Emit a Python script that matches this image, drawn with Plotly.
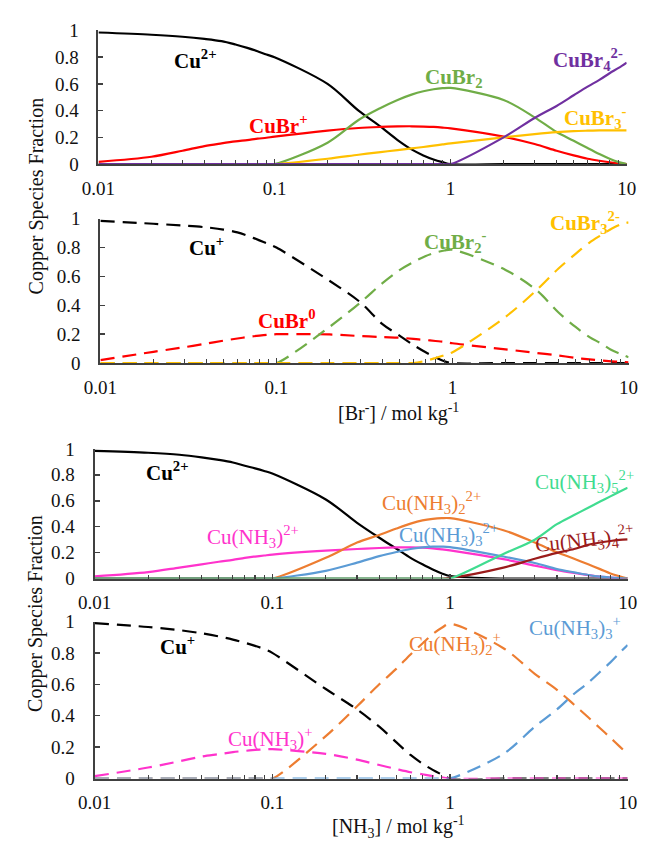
import plotly.graph_objects as go

W, H = 652, 850

# ---------------- data ----------------
conc = [0.01, 0.02, 0.03, 0.04, 0.05, 0.06, 0.07, 0.08, 0.09,
        0.1, 0.2, 0.3, 0.4, 0.5, 0.6, 0.7, 0.8, 0.9,
        1, 2, 3, 4, 5, 6, 7, 8, 9, 10]

# Panel 1: Cu(II) bromide species
br_cu2 = [0.985, 0.968, 0.953, 0.937, 0.92, 0.895, 0.87, 0.845, 0.82, 0.80,
          0.60, 0.40, 0.28, 0.18, 0.11, 0.065, 0.035, 0.015, 0.0,
          0, 0, 0, 0, 0, 0, 0, 0, 0]
br_cubr_p = [0.017, 0.055, 0.10, 0.135, 0.155, 0.17, 0.18, 0.19, 0.197, 0.205,
             0.25, 0.27, 0.278, 0.282, 0.283, 0.281, 0.278, 0.273, 0.267,
             0.205, 0.15, 0.10, 0.065, 0.04, 0.025, 0.014, 0.006, 0.0]
br_cubr2 = [0, 0, 0, 0, 0, 0, 0, 0, 0, 0,
            0.16, 0.33, 0.42, 0.48, 0.52, 0.545, 0.56, 0.568, 0.57,
            0.48, 0.35, 0.24, 0.175, 0.12, 0.075, 0.04, 0.015, 0.0]
br_cubr3 = [0, 0, 0, 0, 0, 0, 0, 0, 0, 0,
            0.04, 0.07, 0.09, 0.105, 0.118, 0.128, 0.138, 0.147, 0.155,
            0.20, 0.225, 0.24, 0.247, 0.25, 0.252, 0.253, 0.253, 0.253]
br_cubr4 = [0, 0, 0, 0, 0, 0, 0, 0, 0, 0,
            0, 0, 0, 0, 0, 0, 0, 0, 0,
            0.20, 0.345, 0.435, 0.515, 0.58, 0.63, 0.68, 0.72, 0.76]

# Panel 2: Cu(I) bromide species
br_cu1 = [0.985, 0.965, 0.952, 0.94, 0.925, 0.905, 0.878, 0.85, 0.825, 0.80,
          0.57, 0.42, 0.27, 0.19, 0.125, 0.076, 0.04, 0.013, 0.0,
          0, 0, 0, 0, 0, 0, 0, 0, 0]
br_cubr0 = [0.02, 0.078, 0.11, 0.135, 0.155, 0.17, 0.182, 0.19, 0.196, 0.20,
            0.198, 0.187, 0.18, 0.176, 0.167, 0.16, 0.153, 0.147, 0.137,
            0.095, 0.07, 0.052, 0.036, 0.025, 0.018, 0.012, 0.008, 0.005]
br_cubr2m = [0, 0, 0, 0, 0, 0, 0, 0, 0, 0,
             0.25, 0.42, 0.554, 0.644, 0.70, 0.74, 0.765, 0.78, 0.785,
             0.645, 0.505, 0.35, 0.25, 0.18, 0.135, 0.09, 0.063, 0.04]
br_cubr3m = [0, 0, 0, 0, 0, 0, 0, 0, 0, 0,
             0, 0, 0, 0, 0, 0.015, 0.035, 0.055, 0.075,
             0.32, 0.505, 0.655, 0.757, 0.835, 0.887, 0.93, 0.96, 0.975]

# Panel 3: Cu(II) ammine species
nh_cu2 = [0.985, 0.97, 0.955, 0.935, 0.915, 0.895, 0.87, 0.85, 0.83, 0.81,
          0.61, 0.43, 0.315, 0.23, 0.16, 0.11, 0.07, 0.04, 0.02,
          0, 0, 0, 0, 0, 0, 0, 0, 0]
nh_a1 = [0.017, 0.05, 0.085, 0.11, 0.13, 0.145, 0.16, 0.17, 0.178, 0.185,
         0.215, 0.228, 0.236, 0.24, 0.24, 0.238, 0.233, 0.226, 0.218,
         0.15, 0.10, 0.065, 0.043, 0.027, 0.015, 0.008, 0.003, 0.0]
nh_a2 = [0, 0, 0, 0, 0, 0, 0, 0, 0, 0,
         0.16, 0.278, 0.336, 0.386, 0.424, 0.449, 0.461, 0.466, 0.466,
         0.373, 0.278, 0.203, 0.153, 0.11, 0.073, 0.04, 0.018, 0.0]
nh_a3 = [0, 0, 0, 0, 0, 0, 0, 0, 0, 0,
         0.06, 0.123, 0.173, 0.205, 0.228, 0.24, 0.246, 0.246, 0.243,
         0.17, 0.12, 0.073, 0.048, 0.028, 0.015, 0.008, 0.003, 0.0]
nh_a4 = [0, 0, 0, 0, 0, 0, 0, 0, 0, 0,
         0, 0, 0, 0, 0, 0, 0, 0, 0.005,
         0.085, 0.153, 0.198, 0.228, 0.26, 0.278, 0.29, 0.298, 0.303]
nh_a5 = [0, 0, 0, 0, 0, 0, 0, 0, 0, 0,
         0, 0, 0, 0, 0, 0, 0, 0, 0,
         0.19, 0.30, 0.42, 0.49, 0.546, 0.594, 0.634, 0.669, 0.70]

# Panel 4: Cu(I) ammine species
nh_cu1 = [0.99, 0.965, 0.945, 0.925, 0.905, 0.885, 0.865, 0.845, 0.825, 0.80,
          0.57, 0.44, 0.33, 0.23, 0.15, 0.095, 0.055, 0.025, 0.0,
          0, 0, 0, 0, 0, 0, 0, 0, 0]
nh_b1 = [0.015, 0.07, 0.11, 0.14, 0.155, 0.168, 0.176, 0.182, 0.186, 0.187,
         0.157, 0.12, 0.086, 0.06, 0.04, 0.027, 0.016, 0.008, 0.0,
         0, 0, 0, 0, 0, 0, 0, 0, 0]
nh_b2 = [0, 0, 0, 0, 0, 0, 0, 0, 0, 0,
         0.27, 0.46, 0.60, 0.70, 0.79, 0.86, 0.92, 0.96, 0.985,
         0.83, 0.667, 0.565, 0.47, 0.39, 0.32, 0.26, 0.205, 0.155]
nh_b3 = [0, 0, 0, 0, 0, 0, 0, 0, 0, 0,
         0, 0, 0, 0, 0, 0, 0, 0, 0,
         0.157, 0.33, 0.44, 0.54, 0.61, 0.68, 0.74, 0.80, 0.85]

x_major = [0.01, 0.1, 1, 10]
x_major_text = ["0.01", "0.1", "1", "10"]
x_minor = [0.02, 0.03, 0.04, 0.05, 0.06, 0.07, 0.08, 0.09,
           0.2, 0.3, 0.4, 0.5, 0.6, 0.7, 0.8, 0.9,
           2, 3, 4, 5, 6, 7, 8, 9]
y_ticks = [0, 0.2, 0.4, 0.6, 0.8, 1]
y_tick_text = ["0", "0.2", "0.4", "0.6", "0.8", "1"]

# ---------------- styling ----------------
BLACK = "#000000"
RED = "#FF0000"
GREEN = "#70AD47"
GOLD = "#FFC000"
PURPLE = "#7030A0"
ORANGE = "#ED7D31"
BLUE = "#5B9BD5"
PINK = "#FF33CC"
MINT = "#40DC90"
MAROON = "#9B1B1B"
FONT = "Liberation Serif"
DASH = "14px,8px"

fig = go.Figure()

def add(yvals, color, axis, dash=None):
    fig.add_trace(go.Scatter(
        x=conc, y=yvals, mode="lines",
        line=dict(color=color, width=2.2, dash=dash, shape="spline", smoothing=0.9),
        xaxis="x" + axis, yaxis="y" + axis, showlegend=False, hoverinfo="skip"))

add(br_cu2, BLACK, "")
add(br_cubr_p, RED, "")
add(br_cubr2, GREEN, "")
add(br_cubr3, GOLD, "")
add(br_cubr4, PURPLE, "")

add(br_cu1, BLACK, "2", DASH)
add(br_cubr0, RED, "2", DASH)
add(br_cubr2m, GREEN, "2", DASH)
add(br_cubr3m, GOLD, "2", DASH)

add(nh_cu2, BLACK, "3")
add(nh_a1, PINK, "3")
add(nh_a2, ORANGE, "3")
add(nh_a3, BLUE, "3")
add(nh_a4, MAROON, "3")
add(nh_a5, MINT, "3")

add(nh_cu1, BLACK, "4", DASH)
add(nh_b1, PINK, "4", DASH)
add(nh_b2, ORANGE, "4", DASH)
add(nh_b3, BLUE, "4", DASH)

# plot-area pixel boxes: (left, right, top(y=1), bottom(y=0))
boxes = {
    "": (85, 636, 21, 158),
    "2": (87, 638, 214, 362),
    "3": (81, 637, 450, 583),
    "4": (81, 637, 627, 788),
}
AXC = "#404040"
tickfont = dict(family=FONT, size=19, color="#111111")
lay = {}
for k, (l, r, t, b) in boxes.items():
    lay["xaxis" + k] = dict(
        type="log", range=[-2, 1], domain=[l / W, r / W],
        anchor="y" + k, tickvals=x_major, ticktext=x_major_text,
        ticks="inside", ticklen=5, tickcolor=AXC, tickwidth=1.5,
        minor=dict(tickvals=x_minor, ticks="inside", ticklen=4,
                   tickcolor=AXC, tickwidth=1.2, showgrid=False),
        showline=True, linecolor=AXC, linewidth=2, showgrid=False,
        zeroline=False, tickfont=tickfont, ticklabelstandoff=6)
    lay["yaxis" + k] = dict(
        range=[0, 1], domain=[1 - b / H, 1 - t / H], anchor="x" + k,
        tickvals=y_ticks, ticktext=y_tick_text,
        ticks="inside", ticklen=5, tickcolor=AXC, tickwidth=1.5,
        showline=True, linecolor=AXC, linewidth=2, showgrid=False,
        zeroline=False, tickfont=tickfont, ticklabelstandoff=14)

annos = []

def lab(text, px, py, color, bold=True, size=21, angle=0):
    if bold:
        text = "<b>" + text + "</b>"
    annos.append(dict(text=text, x=px / W, y=1 - py / H, xref="paper", yref="paper",
                      showarrow=False, xanchor="center", yanchor="middle",
                      textangle=angle,
                      font=dict(family=FONT, size=size, color=color)))

# panel 1
lab("Cu<sup>2+</sup>", 186, 51, BLACK)
lab("CuBr<sup>+</sup>", 273, 117, RED)
lab("CuBr<sub>2</sub>", 456, 70, GREEN)
lab("CuBr<sub>4</sub><sup>2-</sup>", 596, 51, PURPLE)
lab("CuBr<sub>3</sub><sup>-</sup>", 603, 110, GOLD)
# panel 2
lab("Cu<sup>+</sup>", 198, 243, BLACK)
lab("CuBr<sup>0</sup>", 282, 317, RED)
lab("CuBr<sub>2</sub><sup>-</sup>", 457, 237, GREEN)
lab("CuBr<sub>3</sub><sup>2-</sup>", 593, 218, GOLD)
# panel 3
lab("Cu<sup>2+</sup>", 157, 473, BLACK)
lab("Cu(NH<sub>3</sub>)<sup>2+</sup>", 246, 540, PINK, bold=False)
lab("Cu(NH<sub>3</sub>)<sub>2</sub><sup>2+</sup>", 432, 505, ORANGE, bold=False)
lab("Cu(NH<sub>3</sub>)<sub>3</sub><sup>2+</sup>", 450, 538, BLUE, bold=False)
lab("Cu(NH<sub>3</sub>)<sub>5</sub><sup>2+</sup>", 592, 483, MINT, bold=False)
lab("Cu(NH<sub>3</sub>)<sub>4</sub><sup>2+</sup>", 592, 543, MAROON, bold=False, angle=-6)
# panel 4
lab("Cu<sup>+</sup>", 167, 652, BLACK)
lab("Cu(NH<sub>3</sub>)<sup>+</sup>", 264, 747, PINK, bold=False)
lab("Cu(NH<sub>3</sub>)<sub>2</sub><sup>+</sup>", 457, 650, ORANGE, bold=False)
lab("Cu(NH<sub>3</sub>)<sub>3</sub><sup>+</sup>", 582, 633, BLUE, bold=False)

# axis titles
def title(text, px, py, angle=0):
    annos.append(dict(text=text, x=px / W, y=1 - py / H, xref="paper", yref="paper",
                      showarrow=False, xanchor="center", yanchor="middle",
                      textangle=angle,
                      font=dict(family=FONT, size=20, color="#111111")))

title("Copper Species Fraction", 20, 191, -90)
title("Copper Species Fraction", 20, 619, -90)
title("[Br<sup>-</sup>] / mol kg<sup>-1</sup>", 398, 413)
title("[NH<sub>3</sub>] / mol kg<sup>-1</sup>", 398, 838)

fig.update_layout(
    width=W, height=H, margin=dict(l=0, r=0, t=0, b=0),
    paper_bgcolor="white", plot_bgcolor="white",
    annotations=annos, showlegend=False, **lay)

fig.write_html(
    "out.html",
    config={"displayModeBar": False, "staticPlot": True},
    post_script="document.body.style.margin='0';"
                "document.body.style.padding='0';"
                "document.body.style.overflow='hidden';")
